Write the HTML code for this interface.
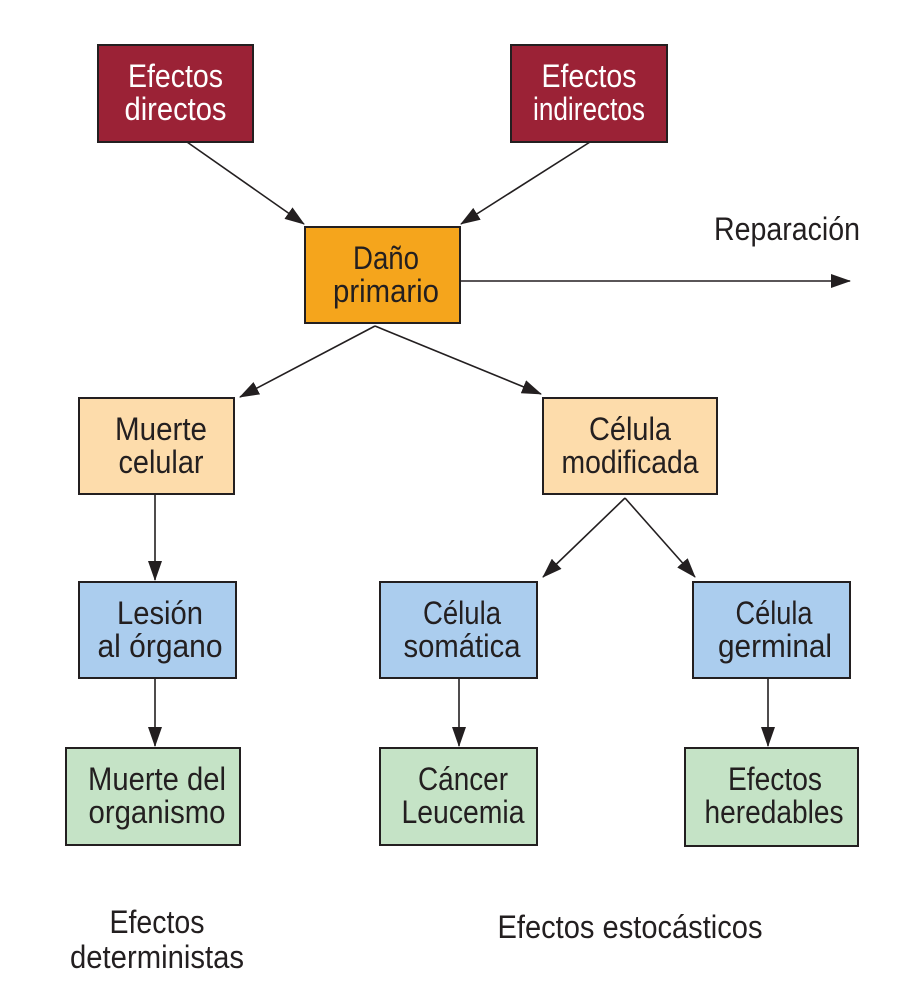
<!DOCTYPE html>
<html><head><meta charset="utf-8"><style>
html,body{margin:0;padding:0;background:#fff}
svg{display:block}
text{font-family:"Liberation Sans Narrow","Liberation Sans",sans-serif;font-size:32px;fill:#231f20;text-anchor:middle}
.w{fill:#fff}
rect{stroke:#231f20;stroke-width:2}
line{stroke:#231f20;stroke-width:1.6}
</style></head><body>
<svg width="900" height="991" viewBox="0 0 900 991" xmlns="http://www.w3.org/2000/svg">
<defs><marker id="a" markerWidth="12" markerHeight="10" refX="11" refY="5" orient="auto" markerUnits="userSpaceOnUse"><path d="M0,0 L12,5 L0,10 Z" fill="#231f20"/></marker>
<marker id="b" markerWidth="20" markerHeight="14" refX="19" refY="7" orient="auto" markerUnits="userSpaceOnUse"><path d="M0,0 L20,7 L0,14 Z" fill="#231f20"/></marker></defs>

<line x1="187" y1="142" x2="304" y2="224" marker-end="url(#b)"/>
<line x1="590" y1="142" x2="461" y2="224" marker-end="url(#b)"/>
<line x1="460" y1="281" x2="850" y2="281" marker-end="url(#b)"/>
<line x1="375" y1="326" x2="240" y2="397" marker-end="url(#b)"/>
<line x1="375" y1="326" x2="541" y2="394" marker-end="url(#b)"/>
<line x1="155" y1="494" x2="155" y2="580" marker-end="url(#b)"/>
<line x1="625" y1="498" x2="543" y2="577" marker-end="url(#b)"/>
<line x1="625" y1="498" x2="695" y2="577" marker-end="url(#b)"/>
<line x1="155" y1="678" x2="155" y2="746" marker-end="url(#b)"/>
<line x1="459" y1="678" x2="459" y2="746" marker-end="url(#b)"/>
<line x1="768" y1="678" x2="768" y2="746" marker-end="url(#b)"/>

<rect x="98" y="45" width="155" height="97" fill="#9b2236"/>
<text class="w" x="175.5" y="87" textLength="95" lengthAdjust="spacingAndGlyphs">Efectos</text>
<text class="w" x="175.5" y="120" textLength="102" lengthAdjust="spacingAndGlyphs">directos</text>

<rect x="511" y="45" width="156" height="97" fill="#9b2236"/>
<text class="w" x="589" y="87" textLength="95" lengthAdjust="spacingAndGlyphs">Efectos</text>
<text class="w" x="589" y="120" textLength="112" lengthAdjust="spacingAndGlyphs">indirectos</text>

<rect x="305" y="227" width="155" height="96" fill="#f5a51c"/>
<text x="386" y="269" textLength="66" lengthAdjust="spacingAndGlyphs">Daño</text>
<text x="386" y="302" textLength="106" lengthAdjust="spacingAndGlyphs">primario</text>

<rect x="79" y="398" width="155" height="96" fill="#fddcab"/>
<text x="161" y="440" textLength="92" lengthAdjust="spacingAndGlyphs">Muerte</text>
<text x="161" y="473" textLength="85" lengthAdjust="spacingAndGlyphs">celular</text>

<rect x="543" y="398" width="174" height="96" fill="#fddcab"/>
<text x="630" y="440" textLength="82" lengthAdjust="spacingAndGlyphs">Célula</text>
<text x="630" y="473" textLength="137" lengthAdjust="spacingAndGlyphs">modificada</text>

<rect x="79" y="582" width="157" height="96" fill="#abcdee"/>
<text x="160" y="624" textLength="86" lengthAdjust="spacingAndGlyphs">Lesión</text>
<text x="160" y="657" textLength="125" lengthAdjust="spacingAndGlyphs">al órgano</text>

<rect x="380" y="582" width="157" height="96" fill="#abcdee"/>
<text x="462" y="624" textLength="78" lengthAdjust="spacingAndGlyphs">Célula</text>
<text x="462" y="657" textLength="117" lengthAdjust="spacingAndGlyphs">somática</text>

<rect x="693" y="582" width="157" height="96" fill="#abcdee"/>
<text x="774" y="624" textLength="77" lengthAdjust="spacingAndGlyphs">Célula</text>
<text x="775" y="657" textLength="114" lengthAdjust="spacingAndGlyphs">germinal</text>

<rect x="66" y="748" width="174" height="97" fill="#c5e3c6"/>
<text x="157" y="790" textLength="138" lengthAdjust="spacingAndGlyphs">Muerte del</text>
<text x="157" y="823" textLength="137" lengthAdjust="spacingAndGlyphs">organismo</text>

<rect x="380" y="748" width="157" height="97" fill="#c5e3c6"/>
<text x="463" y="790" textLength="90" lengthAdjust="spacingAndGlyphs">Cáncer</text>
<text x="463" y="823" textLength="123" lengthAdjust="spacingAndGlyphs">Leucemia</text>

<rect x="685" y="748" width="173" height="98" fill="#c5e3c6"/>
<text x="775" y="790" textLength="94" lengthAdjust="spacingAndGlyphs">Efectos</text>
<text x="774" y="823" textLength="139" lengthAdjust="spacingAndGlyphs">heredables</text>

<text x="787" y="240" textLength="146" lengthAdjust="spacingAndGlyphs">Reparación</text>
<text x="157" y="933" textLength="95" lengthAdjust="spacingAndGlyphs">Efectos</text>
<text x="157" y="968" textLength="174" lengthAdjust="spacingAndGlyphs">deterministas</text>
<text x="630" y="938" textLength="265" lengthAdjust="spacingAndGlyphs">Efectos estocásticos</text>
</svg>
</body></html>
